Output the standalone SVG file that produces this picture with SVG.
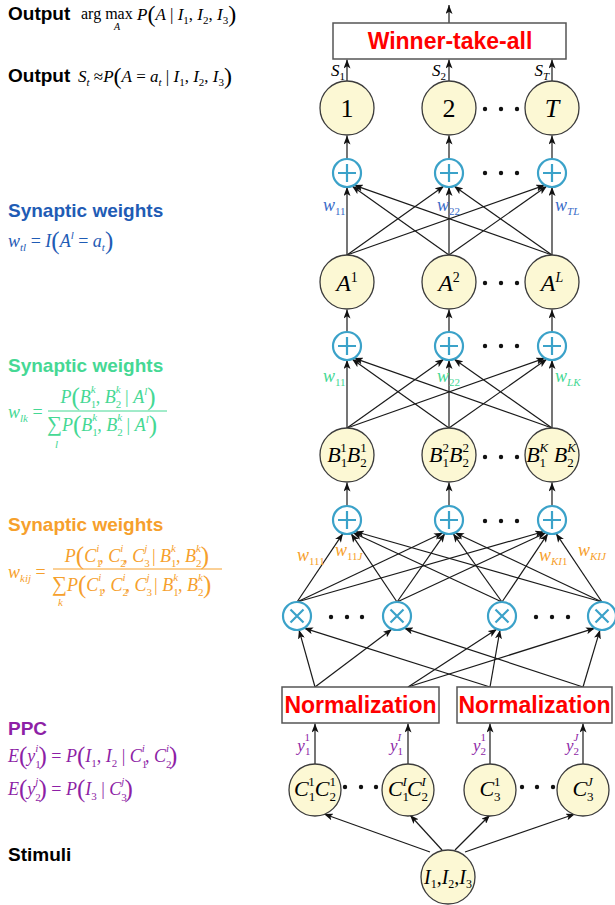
<svg xmlns="http://www.w3.org/2000/svg" width="615" height="905" viewBox="0 0 615 905">
<defs>
<marker id="ah" viewBox="0 0 9 7" refX="9" refY="3.5" markerWidth="9" markerHeight="7" markerUnits="userSpaceOnUse" orient="auto"><path d="M0,0 L9,3.5 L0,7 L2.2,3.5 z" fill="#111"/></marker>
<style>
.hd{font-family:"Liberation Sans",Arial,sans-serif;font-weight:bold;font-size:19px}
.t{font-family:"Liberation Serif","Times New Roman",serif;font-style:italic}
.u{font-style:normal}
.sm{font-size:11px}
.ns{font-size:13px}
.node{fill:#fcf8d4;stroke:#3c3c3c;stroke-width:1.3}
.op{fill:#fff;stroke:#3ba2c9;stroke-width:2.2}
.opl{stroke:#3ba2c9;stroke-width:2.2;fill:none}
.ln{stroke:#1a1a1a;stroke-width:1.2;fill:none;marker-end:url(#ah)}
.box{fill:#fff;stroke:#555;stroke-width:1.5}
.red{font-family:"Liberation Sans",Arial,sans-serif;font-weight:bold;font-size:23px;fill:#ff0000;text-anchor:middle}
.nl{font-family:"Liberation Serif","Times New Roman",serif;text-anchor:middle}
.dot{fill:#111}
.blue{fill:#1f5cb5}
.green{fill:#45d894}
.orange{fill:#f6a02c}
.purple{fill:#8e1fa6}
</style>
</defs>
<rect width="615" height="905" fill="#fff"/>

<g id="left-text">
<text class="hd" x="8" y="20">Output</text>
<text class="t u" x="81" y="19" font-size="16">arg max</text>
<text class="t" x="114" y="30" font-size="10">A</text>
<text class="t" x="137" y="20" font-size="17">P<tspan class="u" font-size="24" dy="2">(</tspan><tspan dy="-2">A</tspan><tspan class="u"> | </tspan>I<tspan class="u sm" dy="4">1</tspan><tspan class="u" dy="-4">, </tspan>I<tspan class="u sm" dy="4">2</tspan><tspan class="u" dy="-4">, </tspan>I<tspan class="u sm" dy="4">3</tspan><tspan class="u" font-size="24" dy="-2">)</tspan></text>

<text class="hd" x="8" y="82">Output</text>
<text class="t" x="78" y="82" font-size="17">S<tspan class="sm" dy="4">t</tspan><tspan class="u" dy="-4"> ≈</tspan>P<tspan class="u" font-size="24" dy="2">(</tspan><tspan dy="-2">A</tspan><tspan class="u"> = </tspan>a<tspan class="sm" dy="4">t</tspan><tspan class="u" dy="-4"> | </tspan>I<tspan class="u sm" dy="4">1</tspan><tspan class="u" dy="-4">, </tspan>I<tspan class="u sm" dy="4">2</tspan><tspan class="u" dy="-4">, </tspan>I<tspan class="u sm" dy="4">3</tspan><tspan class="u" font-size="24" dy="-2">)</tspan></text>

<text class="hd blue" x="8" y="217">Synaptic weights</text>
<text class="t blue" x="8" y="247" font-size="18">w<tspan class="sm" dy="4">tl</tspan><tspan class="u" dy="-4"> = </tspan>I<tspan class="u" font-size="25" dy="2">(</tspan><tspan dy="-2">A</tspan><tspan class="sm" dy="-8">l</tspan><tspan class="u" dy="8"> = </tspan>a<tspan class="sm" dy="4">t</tspan><tspan class="u" font-size="25" dy="-2">)</tspan></text>

<text class="hd green" x="8" y="372">Synaptic weights</text>
<text class="t green" x="8" y="418" font-size="18">w<tspan class="sm" dy="4">lk</tspan><tspan class="u" dy="-4"> =</tspan></text>
<text class="t green" x="108" y="403" font-size="18" text-anchor="middle">P<tspan class="u" font-size="25" dy="2">(</tspan><tspan dy="-2">B</tspan><tspan class="u sm" dy="5">1</tspan><tspan class="sm" dx="-5.5" dy="-15">k</tspan><tspan class="u" dy="10">, </tspan>B<tspan class="u sm" dy="5">2</tspan><tspan class="sm" dx="-5.5" dy="-15">k</tspan><tspan class="u" dy="10"> | </tspan>A<tspan class="sm" dy="-8">l</tspan><tspan class="u" font-size="25" dy="10">)</tspan></text>
<line x1="48" y1="411" x2="167" y2="411" stroke="#45d894" stroke-width="1"/>
<text class="t green" x="47" y="431" font-size="18"><tspan class="u" font-size="21">∑</tspan>P<tspan class="u" font-size="25" dy="2">(</tspan><tspan dy="-2">B</tspan><tspan class="u sm" dy="5">1</tspan><tspan class="sm" dx="-5.5" dy="-15">k</tspan><tspan class="u" dy="10">, </tspan>B<tspan class="u sm" dy="5">2</tspan><tspan class="sm" dx="-5.5" dy="-15">k</tspan><tspan class="u" dy="10"> | </tspan>A<tspan class="sm" dy="-8">l</tspan><tspan class="u" font-size="25" dy="10">)</tspan></text>
<text class="t green" x="55" y="448" font-size="11">l</text>

<text class="hd orange" x="8" y="531">Synaptic weights</text>
<text class="t orange" x="8" y="578" font-size="18">w<tspan class="sm" dy="4">kij</tspan><tspan class="u" dy="-4"> =</tspan></text>
<text class="t orange" x="137" y="562" font-size="18" text-anchor="middle">P<tspan class="u" font-size="25" dy="2">(</tspan><tspan dy="-2">C</tspan><tspan class="u sm" dy="5">1</tspan><tspan class="sm" dx="-5.5" dy="-15">i</tspan><tspan class="u" dy="10">, </tspan>C<tspan class="u sm" dy="5">2</tspan><tspan class="sm" dx="-5.5" dy="-15">i</tspan><tspan class="u" dy="10">, </tspan>C<tspan class="u sm" dy="5">3</tspan><tspan class="sm" dx="-5.5" dy="-15">j</tspan><tspan class="u" dy="10"> | </tspan>B<tspan class="u sm" dy="5">1</tspan><tspan class="sm" dx="-5.5" dy="-15">k</tspan><tspan class="u" dy="10">, </tspan>B<tspan class="u sm" dy="5">2</tspan><tspan class="sm" dx="-5.5" dy="-15">k</tspan><tspan class="u" font-size="25" dy="12">)</tspan></text>
<line x1="53" y1="569" x2="222" y2="569" stroke="#f6a02c" stroke-width="1"/>
<text class="t orange" x="52" y="591" font-size="18"><tspan class="u" font-size="21">∑</tspan>P<tspan class="u" font-size="25" dy="2">(</tspan><tspan dy="-2">C</tspan><tspan class="u sm" dy="5">1</tspan><tspan class="sm" dx="-5.5" dy="-15">i</tspan><tspan class="u" dy="10">, </tspan>C<tspan class="u sm" dy="5">2</tspan><tspan class="sm" dx="-5.5" dy="-15">i</tspan><tspan class="u" dy="10">, </tspan>C<tspan class="u sm" dy="5">3</tspan><tspan class="sm" dx="-5.5" dy="-15">j</tspan><tspan class="u" dy="10"> | </tspan>B<tspan class="u sm" dy="5">1</tspan><tspan class="sm" dx="-5.5" dy="-15">k</tspan><tspan class="u" dy="10">, </tspan>B<tspan class="u sm" dy="5">2</tspan><tspan class="sm" dx="-5.5" dy="-15">k</tspan><tspan class="u" font-size="25" dy="12">)</tspan></text>
<text class="t orange" x="58" y="606" font-size="11">k</text>

<text class="hd purple" x="8" y="735">PPC</text>
<text class="t purple" x="8" y="762" font-size="18">E<tspan class="u" font-size="25" dy="2">(</tspan><tspan dy="-2">y</tspan><tspan class="u sm" dy="6">1</tspan><tspan class="sm" dx="-5.5" dy="-16">i</tspan><tspan class="u" font-size="25" dy="12">)</tspan><tspan class="u" dy="-2"> = </tspan>P<tspan class="u" font-size="25" dy="2">(</tspan><tspan dy="-2">I</tspan><tspan class="u sm" dy="5">1</tspan><tspan class="u" dy="-5">, </tspan>I<tspan class="u sm" dy="5">2</tspan><tspan class="u" dy="-5"> | </tspan>C<tspan class="u sm" dy="6">1</tspan><tspan class="sm" dx="-5.5" dy="-16">i</tspan><tspan class="u" dy="10">, </tspan>C<tspan class="u sm" dy="6">2</tspan><tspan class="sm" dx="-5.5" dy="-16">i</tspan><tspan class="u" font-size="25" dy="12">)</tspan></text>
<text class="t purple" x="8" y="795" font-size="18">E<tspan class="u" font-size="25" dy="2">(</tspan><tspan dy="-2">y</tspan><tspan class="u sm" dy="6">2</tspan><tspan class="sm" dx="-5.5" dy="-16">j</tspan><tspan class="u" font-size="25" dy="12">)</tspan><tspan class="u" dy="-2"> = </tspan>P<tspan class="u" font-size="25" dy="2">(</tspan><tspan dy="-2">I</tspan><tspan class="u sm" dy="5">3</tspan><tspan class="u" dy="-5"> | </tspan>C<tspan class="u sm" dy="6">3</tspan><tspan class="sm" dx="-5.5" dy="-16">j</tspan><tspan class="u" font-size="25" dy="12">)</tspan></text>

<text class="hd" x="8" y="861">Stimuli</text>
</g>

<g id="connectors">
<path class="ln" d="M449,23 L449,5"/>
<path class="ln" d="M347,81 L347,59.5"/>
<path class="ln" d="M449,81 L449,59.5"/>
<path class="ln" d="M552,81 L552,59.5"/>
<path class="ln" d="M347,159 L347,135.5"/>
<path class="ln" d="M449,159 L449,135.5"/>
<path class="ln" d="M552,159 L552,135.5"/>
<path class="ln" d="M347,255 L347,187"/>
<path class="ln" d="M347,255 L444,186.1"/>
<path class="ln" d="M347,255 L545,185.1"/>
<path class="ln" d="M449,255 L352,186.1"/>
<path class="ln" d="M449,255 L449,187"/>
<path class="ln" d="M449,255 L547,186.1"/>
<path class="ln" d="M552,255 L354,185.1"/>
<path class="ln" d="M552,255 L454,186.1"/>
<path class="ln" d="M552,255 L552,187"/>
<path class="ln" d="M347,332 L347,309.5"/>
<path class="ln" d="M449,332 L449,309.5"/>
<path class="ln" d="M552,332 L552,309.5"/>
<path class="ln" d="M347,428 L347,360"/>
<path class="ln" d="M347,428 L444,359.1"/>
<path class="ln" d="M347,428 L545,358.1"/>
<path class="ln" d="M449,428 L352,359.1"/>
<path class="ln" d="M449,428 L449,360"/>
<path class="ln" d="M449,428 L547,359.1"/>
<path class="ln" d="M552,428 L354,358.1"/>
<path class="ln" d="M552,428 L454,359.1"/>
<path class="ln" d="M552,428 L552,360"/>
<path class="ln" d="M347,506 L347,482.5"/>
<path class="ln" d="M449,506 L449,482.5"/>
<path class="ln" d="M552,506 L552,482.5"/>
<path class="ln" d="M297,602 L343,533.4"/>
<path class="ln" d="M297,602 L443,532.7"/>
<path class="ln" d="M297,602 L544,531.5"/>
<path class="ln" d="M397,602 L351,533.4"/>
<path class="ln" d="M397,602 L445,533.4"/>
<path class="ln" d="M397,602 L546,532.7"/>
<path class="ln" d="M502,602 L353,532.7"/>
<path class="ln" d="M502,602 L453,533.4"/>
<path class="ln" d="M502,602 L548,533.4"/>
<path class="ln" d="M602,602 L355,531.5"/>
<path class="ln" d="M602,602 L455,532.7"/>
<path class="ln" d="M602,602 L556,533.4"/>
<path class="ln" d="M315,687 L299,629.9"/>
<path class="ln" d="M490,687 L304,628.1"/>
<path class="ln" d="M315,687 L392,629.1"/>
<path class="ln" d="M583,687 L404,628.1"/>
<path class="ln" d="M408,687 L497,629.1"/>
<path class="ln" d="M490,687 L500,629.9"/>
<path class="ln" d="M408,687 L595,628.1"/>
<path class="ln" d="M583,687 L600,629.9"/>
<path class="ln" d="M315,764 L315,723.5"/>
<path class="ln" d="M408,764 L408,723.5"/>
<path class="ln" d="M490,764 L490,723.5"/>
<path class="ln" d="M583,764 L583,723.5"/>
<path class="ln" d="M430,852 L324,814"/>
<path class="ln" d="M442,850 L410,815"/>
<path class="ln" d="M455,850 L490,815"/>
<path class="ln" d="M465,852 L575,814"/>
</g>

<g id="edge-labels">
<text class="t" x="345" y="76" font-size="17" text-anchor="end">S<tspan class="u" font-size="11" dy="4">1</tspan></text>
<text class="t" x="446" y="76" font-size="17" text-anchor="end">S<tspan class="u" font-size="11" dy="4">2</tspan></text>
<text class="t" x="549" y="76" font-size="17" text-anchor="end">S<tspan font-size="11" dy="4">T</tspan></text>
<text class="t" x="323" y="211" font-size="18" fill="#3a6cc8">w<tspan class="u sm" dy="4">11</tspan></text>
<text class="t" x="437" y="211" font-size="18" fill="#3a6cc8">w<tspan class="u sm" dy="4">22</tspan></text>
<text class="t" x="555" y="211" font-size="18" fill="#3a6cc8">w<tspan class="sm" dy="4">TL</tspan></text>
<text class="t green" x="323" y="382" font-size="18">w<tspan class="u sm" dy="4">11</tspan></text>
<text class="t green" x="437" y="382" font-size="18">w<tspan class="u sm" dy="4">22</tspan></text>
<text class="t green" x="555" y="382" font-size="18">w<tspan class="sm" dy="4">LK</tspan></text>
<text class="t orange" x="297" y="561" font-size="18">w<tspan class="u sm" dy="4">111</tspan></text>
<text class="t orange" x="335" y="556" font-size="18">w<tspan class="u sm" dy="4">11</tspan><tspan class="sm">J</tspan></text>
<text class="t orange" x="539" y="561" font-size="18">w<tspan class="sm" dy="4">KI</tspan><tspan class="u sm">1</tspan></text>
<text class="t orange" x="578" y="556" font-size="18">w<tspan class="sm" dy="4">KIJ</tspan></text>
<text class="t purple" x="310" y="751" font-size="17" text-anchor="end">y<tspan class="u sm" dy="4">1</tspan><tspan class="u sm" dx="-5.5" dy="-14">1</tspan></text>
<text class="t purple" x="403" y="751" font-size="17" text-anchor="end">y<tspan class="u sm" dy="4">1</tspan><tspan class="sm" dx="-5.5" dy="-14">I</tspan></text>
<text class="t purple" x="486" y="751" font-size="17" text-anchor="end">y<tspan class="u sm" dy="4">2</tspan><tspan class="u sm" dx="-5.5" dy="-14">1</tspan></text>
<text class="t purple" x="579" y="751" font-size="17" text-anchor="end">y<tspan class="u sm" dy="4">2</tspan><tspan class="sm" dx="-5.5" dy="-14">J</tspan></text>
</g>

<g id="wta"><rect class="box" x="333" y="23" width="233" height="36"/><text class="red" x="450" y="49">Winner-take-all</text></g>

<g id="out1"><circle class="node" cx="347" cy="108" r="27"/><text class="nl" x="347" y="117" font-size="26">1</text></g>
<g id="out2"><circle class="node" cx="449" cy="108" r="27"/><text class="nl" x="449" y="117" font-size="26">2</text></g>
<g id="outT"><circle class="node" cx="552" cy="108" r="27"/><text class="nl t" x="552" y="117" font-size="26">T</text></g>

<g id="sumA1"><circle class="op" cx="347" cy="173" r="14"/><path class="opl" d="M338,173 H356 M347,164 V182"/></g>
<g id="sumA2"><circle class="op" cx="449" cy="173" r="14"/><path class="opl" d="M440,173 H458 M449,164 V182"/></g>
<g id="sumA3"><circle class="op" cx="552" cy="173" r="14"/><path class="opl" d="M543,173 H561 M552,164 V182"/></g>

<g id="A1"><circle class="node" cx="347" cy="282" r="27"/><text class="nl t" x="347" y="291" font-size="24">A<tspan class="u" font-size="14" dy="-9">1</tspan></text></g>
<g id="A2"><circle class="node" cx="449" cy="282" r="27"/><text class="nl t" x="449" y="291" font-size="24">A<tspan class="u" font-size="14" dy="-9">2</tspan></text></g>
<g id="AL"><circle class="node" cx="552" cy="282" r="27"/><text class="nl t" x="552" y="291" font-size="24">A<tspan font-size="14" dy="-9">L</tspan></text></g>

<g id="sumB1"><circle class="op" cx="347" cy="346" r="14"/><path class="opl" d="M338,346 H356 M347,337 V355"/></g>
<g id="sumB2"><circle class="op" cx="449" cy="346" r="14"/><path class="opl" d="M440,346 H458 M449,337 V355"/></g>
<g id="sumB3"><circle class="op" cx="552" cy="346" r="14"/><path class="opl" d="M543,346 H561 M552,337 V355"/></g>

<g id="B1"><circle class="node" cx="347" cy="455" r="27"/><text class="nl t" x="347" y="462" font-size="22">B<tspan class="u ns" dy="5">1</tspan><tspan class="u ns" dx="-6.5" dy="-15">1</tspan><tspan dy="10">B</tspan><tspan class="u ns" dy="5">2</tspan><tspan class="u ns" dx="-6.5" dy="-15">1</tspan></text></g>
<g id="B2"><circle class="node" cx="449" cy="455" r="27"/><text class="nl t" x="449" y="462" font-size="22">B<tspan class="u ns" dy="5">1</tspan><tspan class="u ns" dx="-6.5" dy="-15">2</tspan><tspan dy="10">B</tspan><tspan class="u ns" dy="5">2</tspan><tspan class="u ns" dx="-6.5" dy="-15">2</tspan></text></g>
<g id="BK"><circle class="node" cx="552" cy="455" r="27"/><text class="nl t" x="551" y="462" font-size="22">B<tspan class="u ns" dy="5">1</tspan><tspan class="ns" dx="-6.5" dy="-15">K</tspan><tspan dy="10"> B</tspan><tspan class="u ns" dy="5">2</tspan><tspan class="ns" dx="-6.5" dy="-15">K</tspan></text></g>

<g id="sumC1"><circle class="op" cx="347" cy="520" r="14"/><path class="opl" d="M338,520 H356 M347,511 V529"/></g>
<g id="sumC2"><circle class="op" cx="449" cy="520" r="14"/><path class="opl" d="M440,520 H458 M449,511 V529"/></g>
<g id="sumC3"><circle class="op" cx="552" cy="520" r="14"/><path class="opl" d="M543,520 H561 M552,511 V529"/></g>

<g id="prod1"><circle class="op" cx="297" cy="616" r="14"/><path class="opl" d="M290.5,609.5 L303.5,622.5 M303.5,609.5 L290.5,622.5"/></g>
<g id="prod2"><circle class="op" cx="397" cy="616" r="14"/><path class="opl" d="M390.5,609.5 L403.5,622.5 M403.5,609.5 L390.5,622.5"/></g>
<g id="prod3"><circle class="op" cx="502" cy="616" r="14"/><path class="opl" d="M495.5,609.5 L508.5,622.5 M508.5,609.5 L495.5,622.5"/></g>
<g id="prod4"><circle class="op" cx="602" cy="616" r="14"/><path class="opl" d="M595.5,609.5 L608.5,622.5 M608.5,609.5 L595.5,622.5"/></g>

<g id="norm1"><rect class="box" x="282" y="687" width="157" height="36"/><text class="red" x="360.5" y="713">Normalization</text></g>
<g id="norm2"><rect class="box" x="457" y="687" width="155" height="36"/><text class="red" x="534.5" y="713">Normalization</text></g>

<g id="C12-1"><circle class="node" cx="315" cy="790" r="26"/><text class="nl t" x="315" y="796" font-size="22">C<tspan class="u ns" dy="5">1</tspan><tspan class="u ns" dx="-6.5" dy="-15">1</tspan><tspan dy="10">C</tspan><tspan class="u ns" dy="5">2</tspan><tspan class="u ns" dx="-6.5" dy="-15">1</tspan></text></g>
<g id="C12-I"><circle class="node" cx="408" cy="790" r="26"/><text class="nl t" x="408" y="796" font-size="22">C<tspan class="u ns" dy="5">1</tspan><tspan class="ns" dx="-6.5" dy="-15">I</tspan><tspan dy="10">C</tspan><tspan class="u ns" dy="5">2</tspan><tspan class="ns" dx="-6.5" dy="-15">I</tspan></text></g>
<g id="C3-1"><circle class="node" cx="490" cy="790" r="26"/><text class="nl t" x="490" y="796" font-size="22">C<tspan class="u ns" dy="5">3</tspan><tspan class="u ns" dx="-6.5" dy="-15">1</tspan></text></g>
<g id="C3-J"><circle class="node" cx="583" cy="790" r="26"/><text class="nl t" x="583" y="796" font-size="22">C<tspan class="u ns" dy="5">3</tspan><tspan class="ns" dx="-6.5" dy="-15">J</tspan></text></g>

<g id="stimuli"><circle class="node" cx="448" cy="877" r="27"/><text class="nl t" x="448" y="884" font-size="20">I<tspan class="u" font-size="12" dy="4">1</tspan><tspan class="u" dy="-4">,</tspan>I<tspan class="u" font-size="12" dy="4">2</tspan><tspan class="u" dy="-4">,</tspan>I<tspan class="u" font-size="12" dy="4">3</tspan></text></g>

<g id="ellipses">
<circle class="dot" cx="485" cy="109" r="2.2"/><circle class="dot" cx="501" cy="109" r="2.2"/><circle class="dot" cx="517" cy="109" r="2.2"/>
<circle class="dot" cx="485" cy="173" r="2.2"/><circle class="dot" cx="501" cy="173" r="2.2"/><circle class="dot" cx="517" cy="173" r="2.2"/>
<circle class="dot" cx="485" cy="283" r="2.2"/><circle class="dot" cx="501" cy="283" r="2.2"/><circle class="dot" cx="517" cy="283" r="2.2"/>
<circle class="dot" cx="485" cy="346" r="2.2"/><circle class="dot" cx="501" cy="346" r="2.2"/><circle class="dot" cx="517" cy="346" r="2.2"/>
<circle class="dot" cx="485" cy="457" r="2.2"/><circle class="dot" cx="501" cy="457" r="2.2"/><circle class="dot" cx="517" cy="457" r="2.2"/>
<circle class="dot" cx="485" cy="521" r="2.2"/><circle class="dot" cx="501" cy="521" r="2.2"/><circle class="dot" cx="517" cy="521" r="2.2"/>
<circle class="dot" cx="331" cy="617" r="2.2"/><circle class="dot" cx="347" cy="617" r="2.2"/><circle class="dot" cx="362" cy="617" r="2.2"/>
<circle class="dot" cx="536" cy="617" r="2.2"/><circle class="dot" cx="552" cy="617" r="2.2"/><circle class="dot" cx="568" cy="617" r="2.2"/>
<circle class="dot" cx="345" cy="787" r="2.2"/><circle class="dot" cx="361" cy="787" r="2.2"/><circle class="dot" cx="376" cy="787" r="2.2"/>
<circle class="dot" cx="522" cy="787" r="2.2"/><circle class="dot" cx="537" cy="787" r="2.2"/><circle class="dot" cx="553" cy="787" r="2.2"/>
</g>
</svg>
